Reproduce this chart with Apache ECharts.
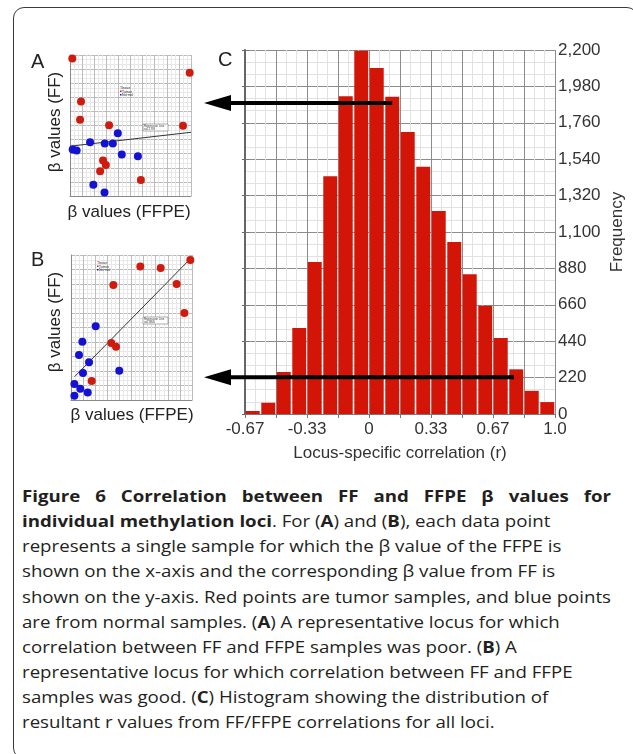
<!DOCTYPE html>
<html><head><meta charset="utf-8">
<script src="https://cdn.jsdelivr.net/npm/echarts@6/dist/echarts.min.js"></script>
<style>
html,body{margin:0;padding:0;background:#fff;width:633px;height:754px;overflow:hidden;}
#frame{position:absolute;left:13px;top:7px;width:625px;height:752px;border:1.5px solid #3a3a3a;border-radius:11px;box-sizing:border-box;}
#chart{position:absolute;left:0;top:0;width:633px;height:475px;}
#caption{position:absolute;left:22px;top:484px;font-family:"Open Sans",sans-serif;font-size:16px;color:#231f20;transform-origin:0 0;}
#caption div{height:25.15px;line-height:25.15px;white-space:nowrap;}
#caption .l1{white-space:normal;text-align:justify;text-align-last:justify;font-weight:bold;}
</style></head>
<body>
<div id="frame"></div>
<div id="chart"></div>
<div id="caption">
<div class="l1">Figure 6 Correlation between FF and FFPE β values for</div>
<div><b>individual methylation loci</b>. For (<b>A</b>) and (<b>B</b>), each data point</div>
<div>represents a single sample for which the β value of the FFPE is</div>
<div>shown on the x-axis and the corresponding β value from FF is</div>
<div id="ref">shown on the y-axis. Red points are tumor samples, and blue points</div>
<div>are from normal samples. (<b>A</b>) A representative locus for which</div>
<div>correlation between FF and FFPE samples was poor. (<b>B</b>) A</div>
<div>representative locus for which correlation between FF and FFPE</div>
<div>samples was good. (<b>C</b>) Histogram showing the distribution of</div>
<div>resultant r values from FF/FFPE correlations for all loci.</div>
</div>
<script>
// ---- data ----
const panelA_tumor = [[0.019,0.976],[0.989,0.875],[0.091,0.671],[0.083,0.541],[0.323,0.501],[0.934,0.499],[0.273,0.252],[0.296,0.219],[0.249,0.176],[0.586,0.113]];
const panelA_normal = [[0.022,0.329],[0.055,0.322],[0.166,0.381],[0.287,0.372],[0.354,0.372],[0.395,0.445],[0.428,0.294],[0.561,0.282],[0.193,0.080],[0.285,0.024]];
const panelA_fit = [[0,0.353],[1,0.452]];
const panelB_tumor = [[0.986,0.966],[0.573,0.920],[0.741,0.910],[0.350,0.793],[0.873,0.800],[0.937,0.600],[0.333,0.393],[0.372,0.368],[0.171,0.131]];
const panelB_normal = [[0.204,0.508],[0.094,0.402],[0.066,0.310],[0.149,0.260],[0.099,0.186],[0.399,0.202],[0.028,0.110],[0.077,0.078],[0.138,0.051],[0.028,0.030]];
const panelB_fit = [[0.03,0.161],[0.99,0.977]];
const binLower = [-0.67,-0.586,-0.503,-0.419,-0.336,-0.252,-0.169,-0.085,-0.002,0.082,0.165,0.249,0.332,0.416,0.499,0.583,0.666,0.750,0.833,0.917];
const binCounts = [18,68,254,520,918,1437,1921,2196,2091,1917,1704,1494,1227,1040,844,654,460,270,140,72];
const rTickLabels = ['-0.67','-0.33','0','0.33','0.67','1.0'];
const rMin = -0.67, rMax = 1.0;
const arrowRows = [{rFrom:0.123, rTo:-0.891, freq:1880},{rFrom:0.779, rTo:-0.891, freq:222}];

// ---- chart ----
const FONT = '"Liberation Sans", Arial, sans-serif';
const chart = echarts.init(document.getElementById('chart'), null, {renderer:'canvas'});
const RED = '#cf1a0e', BLUE = '#1212d0', BAR = '#d31507';
const nBins = binCounts.length;
const binW = (rMax - rMin) / nBins;

function scatterX(gi){return {gridIndex:gi,type:'value',min:0,max:1,interval:0.1,
  axisLabel:{show:false},axisTick:{show:false},
  axisLine:{show:true,lineStyle:{color:'#8a8a8a',width:1}},
  splitLine:{show:true,lineStyle:{color:'#bcbcbc',width:1}},
  minorTick:{show:false,splitNumber:3},minorSplitLine:{show:true,lineStyle:{color:'#e8e8e8',width:1}}};}

const option = {
  animation:false,
  textStyle:{fontFamily:FONT},
  grid:[
    {left:70,top:55,width:121,height:141},
    {left:71,top:255,width:121,height:145},
    {left:245,top:50,width:310,height:364}
  ],
  xAxis:[
    scatterX(0), scatterX(1),
    {gridIndex:2,type:'category',position:'bottom',data:binLower.map(String),show:false},
    {gridIndex:2,type:'value',position:'bottom',min:0,max:nBins,interval:2,
     axisLine:{show:true,onZero:false,lineStyle:{color:'#777',width:1}},
     axisTick:{show:true,length:4,lineStyle:{color:'#777'}},
     axisLabel:{color:'#333',fontSize:17,fontFamily:FONT,margin:7,
       formatter:v=> (v%4===0 ? rTickLabels[v/4] : '')},
     splitLine:{show:true,lineStyle:{color:'#8c8c8c',width:1}},
     minorTick:{show:false,splitNumber:3},
     minorSplitLine:{show:true,lineStyle:{color:'#e2e2e2',width:1}},
     name:'Locus-specific correlation (r)',nameLocation:'middle',nameGap:31,
     nameTextStyle:{color:'#333',fontSize:17,fontFamily:FONT}}
  ],
  yAxis:[
    scatterX(0), scatterX(1),
    {gridIndex:2,type:'value',position:'right',min:0,max:2200,interval:220,
     axisLine:{show:true,lineStyle:{color:'#888',width:1}},
     axisTick:{show:true,length:4,lineStyle:{color:'#777'}},
     axisLabel:{color:'#333',fontSize:17,fontFamily:FONT,margin:3,
       formatter:v=>v.toLocaleString('en-US')},
     splitLine:{show:true,lineStyle:{color:'#8c8c8c',width:1}},
     minorTick:{show:false,splitNumber:3},
     minorSplitLine:{show:true,lineStyle:{color:'#e2e2e2',width:1}},
     name:'Frequency',nameLocation:'middle',nameGap:54,
     nameTextStyle:{color:'#333',fontSize:17,fontFamily:FONT}},
    {gridIndex:2,type:'value',position:'left',min:0,max:2200,interval:220,
     axisLine:{show:true,onZero:false,lineStyle:{color:'#666',width:2}},
     axisTick:{show:true,length:3,lineStyle:{color:'#666'}},
     axisLabel:{show:false},splitLine:{show:false}}
  ],
  series:[
    {type:'line',xAxisIndex:0,yAxisIndex:0,data:panelA_fit,symbol:'none',lineStyle:{color:'#333',width:1},z:2},
    {type:'scatter',xAxisIndex:0,yAxisIndex:0,data:panelA_tumor,symbolSize:8,itemStyle:{color:RED,opacity:1},z:3},
    {type:'scatter',xAxisIndex:0,yAxisIndex:0,data:panelA_normal,symbolSize:8,itemStyle:{color:BLUE,opacity:1},z:3},
    {type:'line',xAxisIndex:1,yAxisIndex:1,data:panelB_fit,symbol:'none',lineStyle:{color:'#333',width:1},z:2},
    {type:'scatter',xAxisIndex:1,yAxisIndex:1,data:panelB_tumor,symbolSize:8,itemStyle:{color:RED,opacity:1},z:3},
    {type:'scatter',xAxisIndex:1,yAxisIndex:1,data:panelB_normal,symbolSize:8,itemStyle:{color:BLUE,opacity:1},z:3},
    {type:'bar',xAxisIndex:2,yAxisIndex:2,data:binCounts,barCategoryGap:'10%',itemStyle:{color:BAR},z:3}
  ]
};
chart.setOption(option);

// ---- annotations (labels, tiny legends, arrows) ----
const g = [];
function txt(t,x,y,size){g.push({type:'text',z:50,style:{text:t,x:x,y:y,fontSize:size,fontFamily:FONT,fill:'#222',align:'left',verticalAlign:'alphabetic'}});}
txt('A',31,52,20); txt('B',31,250,20); txt('C',218,50,20);
function rot(t,cx,cy){g.push({type:'text',z:50,x:cx,y:cy,rotation:Math.PI/2,style:{text:t,fontSize:17,fontFamily:FONT,fill:'#222',align:'center',verticalAlign:'middle'}});}
rot('β values (FF)',55,122); rot('β values (FF)',55,322);
function hor(t,cx,cy){g.push({type:'text',z:50,style:{text:t,x:cx,y:cy,fontSize:17,fontFamily:FONT,fill:'#222',align:'center',verticalAlign:'middle'}});}
hor('β values (FFPE)',129,212); hor('β values (FFPE)',132,415);
function tinyLegend(x,y){
  g.push({type:'text',z:40,style:{text:'Tissue',x:x,y:y,fontSize:3.5,fontFamily:FONT,fill:'#333'}});
  g.push({type:'rect',z:40,shape:{x:x,y:y+4.5,width:1.5,height:1.5},style:{fill:RED}});
  g.push({type:'text',z:40,style:{text:'Tumor',x:x+2,y:y+3.6,fontSize:3.5,fontFamily:FONT,fill:'#333'}});
  g.push({type:'rect',z:40,shape:{x:x,y:y+8,width:1.5,height:1.5},style:{fill:BLUE}});
  g.push({type:'text',z:40,style:{text:'Normal',x:x+2,y:y+7.2,fontSize:3.5,fontFamily:FONT,fill:'#333'}});
}
function tinyBox(x,y,r){
  g.push({type:'rect',z:40,shape:{x:x,y:y,width:25,height:7},style:{fill:'#fff',stroke:'#777',lineWidth:0.6}});
  g.push({type:'text',z:41,style:{text:'Regression Line\n'+r,x:x+1,y:y+0.5,fontSize:2.8,lineHeight:3,fontFamily:FONT,fill:'#333'}});
}
tinyLegend(120,86); tinyBox(143,124,'r=0.1793');
tinyLegend(97,261); tinyBox(143,317,'r=0.8845');
arrowRows.forEach(a=>{
  const toBin = r => (r - rMin)/binW;
  const x1 = chart.convertToPixel({xAxisIndex:3}, toBin(a.rFrom));
  const x0 = chart.convertToPixel({xAxisIndex:3}, toBin(a.rTo));
  const y = chart.convertToPixel({yAxisIndex:2}, a.freq);
  g.push({type:'line',z:60,shape:{x1:x0+20,y1:y,x2:x1,y2:y},style:{stroke:'#000',lineWidth:4}});
  g.push({type:'polygon',z:61,shape:{points:[[x0,y],[x0+27,y-8],[x0+27,y+8]]},style:{fill:'#000'}});
});
chart.setOption({graphic:g});

// ---- caption fitting ----
const cap = document.getElementById('caption');
const ref = document.getElementById('ref');
const range = document.createRange(); range.selectNodeContents(ref);
const w = range.getBoundingClientRect().width;
const s = 589 / w;
cap.style.transform = 'scaleX(' + s + ')';
cap.querySelector('.l1').style.width = (589 / s) + 'px';
</script>
</body></html>
